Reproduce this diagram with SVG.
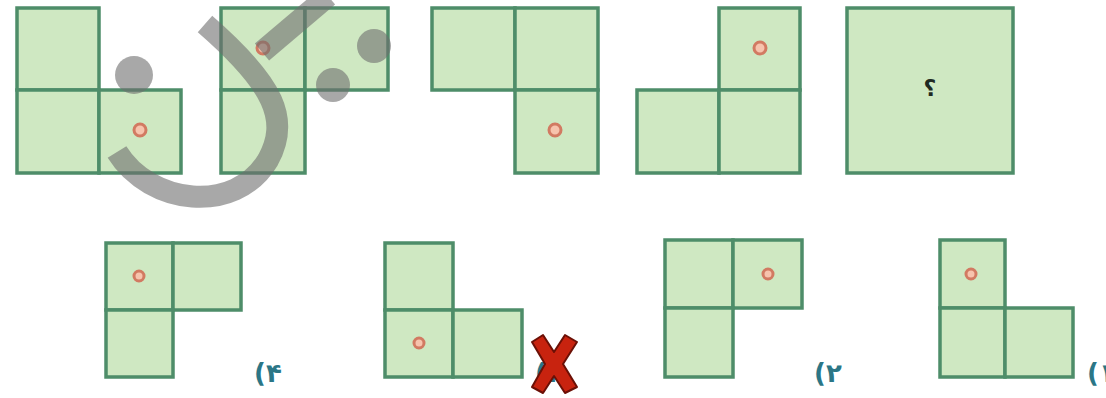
<svg xmlns="http://www.w3.org/2000/svg" width="1106" height="398" viewBox="0 0 1106 398">
<style>
.cell{fill:#cfe8c2;stroke:#4e8d69;stroke-width:3.5}
.dot{fill:#f7c3ad;stroke:#d27a62;stroke-width:3}
.lbl{font-family:"DejaVu Sans",sans-serif;font-weight:bold;font-size:26px;fill:#2b7686}
.q{font-family:"DejaVu Sans",sans-serif;font-weight:bold;font-size:22px;fill:#1f2a22}
.wm{fill:none;stroke:#6e6e6e;stroke-opacity:0.6;stroke-width:22}
.wmd{fill:#6e6e6e;fill-opacity:0.6}
</style>
<rect width="1106" height="398" fill="#ffffff"/>
<g id="shape-top-1">
<rect class="cell" x="17" y="8" width="82" height="82"/>
<rect class="cell" x="17" y="90" width="82" height="83"/>
<rect class="cell" x="99" y="90" width="82" height="83"/>
<circle class="dot" cx="140" cy="130" r="6"/>
</g>
<g id="shape-top-2">
<rect class="cell" x="221" y="8" width="84" height="82"/>
<rect class="cell" x="305" y="8" width="83" height="82"/>
<rect class="cell" x="221" y="90" width="84" height="83"/>
<circle class="dot" cx="263" cy="48" r="6"/>
</g>
<g id="shape-top-3">
<rect class="cell" x="432" y="8" width="83" height="82"/>
<rect class="cell" x="515" y="8" width="83" height="82"/>
<rect class="cell" x="515" y="90" width="83" height="83"/>
<circle class="dot" cx="555" cy="130" r="6"/>
</g>
<g id="shape-top-4">
<rect class="cell" x="719" y="8" width="81" height="82"/>
<rect class="cell" x="637" y="90" width="82" height="83"/>
<rect class="cell" x="719" y="90" width="81" height="83"/>
<circle class="dot" cx="760" cy="48" r="6"/>
</g>
<g id="shape-top-5">
<rect class="cell" x="847" y="8" width="166" height="165"/>
<text class="q" x="930" y="96" text-anchor="middle">؟</text>
</g>
<g id="watermark">
<path class="wm" d="M117,152 C150,205 235,215 268,160 C290,120 275,85 205,24"/>
<path class="wm" d="M262,52 L328,-4"/>
<circle class="wmd" cx="134" cy="75" r="19"/>
<circle class="wmd" cx="333" cy="85" r="17"/>
<circle class="wmd" cx="374" cy="46" r="17"/>
</g>
<g id="option-4">
<rect class="cell" x="106" y="243" width="67" height="67"/>
<rect class="cell" x="173" y="243" width="68" height="67"/>
<rect class="cell" x="106" y="310" width="67" height="67"/>
<circle class="dot" cx="139" cy="276" r="5"/>
<text class="lbl" x="254" y="382">(۴</text>
</g>
<g id="option-3">
<rect class="cell" x="385" y="243" width="68" height="67"/>
<rect class="cell" x="385" y="310" width="68" height="67"/>
<rect class="cell" x="453" y="310" width="69" height="67"/>
<circle class="dot" cx="419" cy="343" r="5"/>
<text class="lbl" x="535" y="382">(۳</text>
<polygon points="532,342 543,335 554,352 565,335 577,342 563,364 577,387 565,393 554,376 543,393 532,387 545,364" fill="#c8230f" stroke="#6b1006" stroke-width="2" stroke-linejoin="round"/>
</g>
<g id="option-2">
<rect class="cell" x="665" y="240" width="68" height="68"/>
<rect class="cell" x="733" y="240" width="69" height="68"/>
<rect class="cell" x="665" y="308" width="68" height="69"/>
<circle class="dot" cx="768" cy="274" r="5"/>
<text class="lbl" x="814" y="382">(۲</text>
</g>
<g id="option-1">
<rect class="cell" x="940" y="240" width="65" height="68"/>
<rect class="cell" x="940" y="308" width="65" height="69"/>
<rect class="cell" x="1005" y="308" width="68" height="69"/>
<circle class="dot" cx="971" cy="274" r="5"/>
<text class="lbl" x="1087" y="382">(۱</text>
</g>
<g id="connectors"/>
</svg>
